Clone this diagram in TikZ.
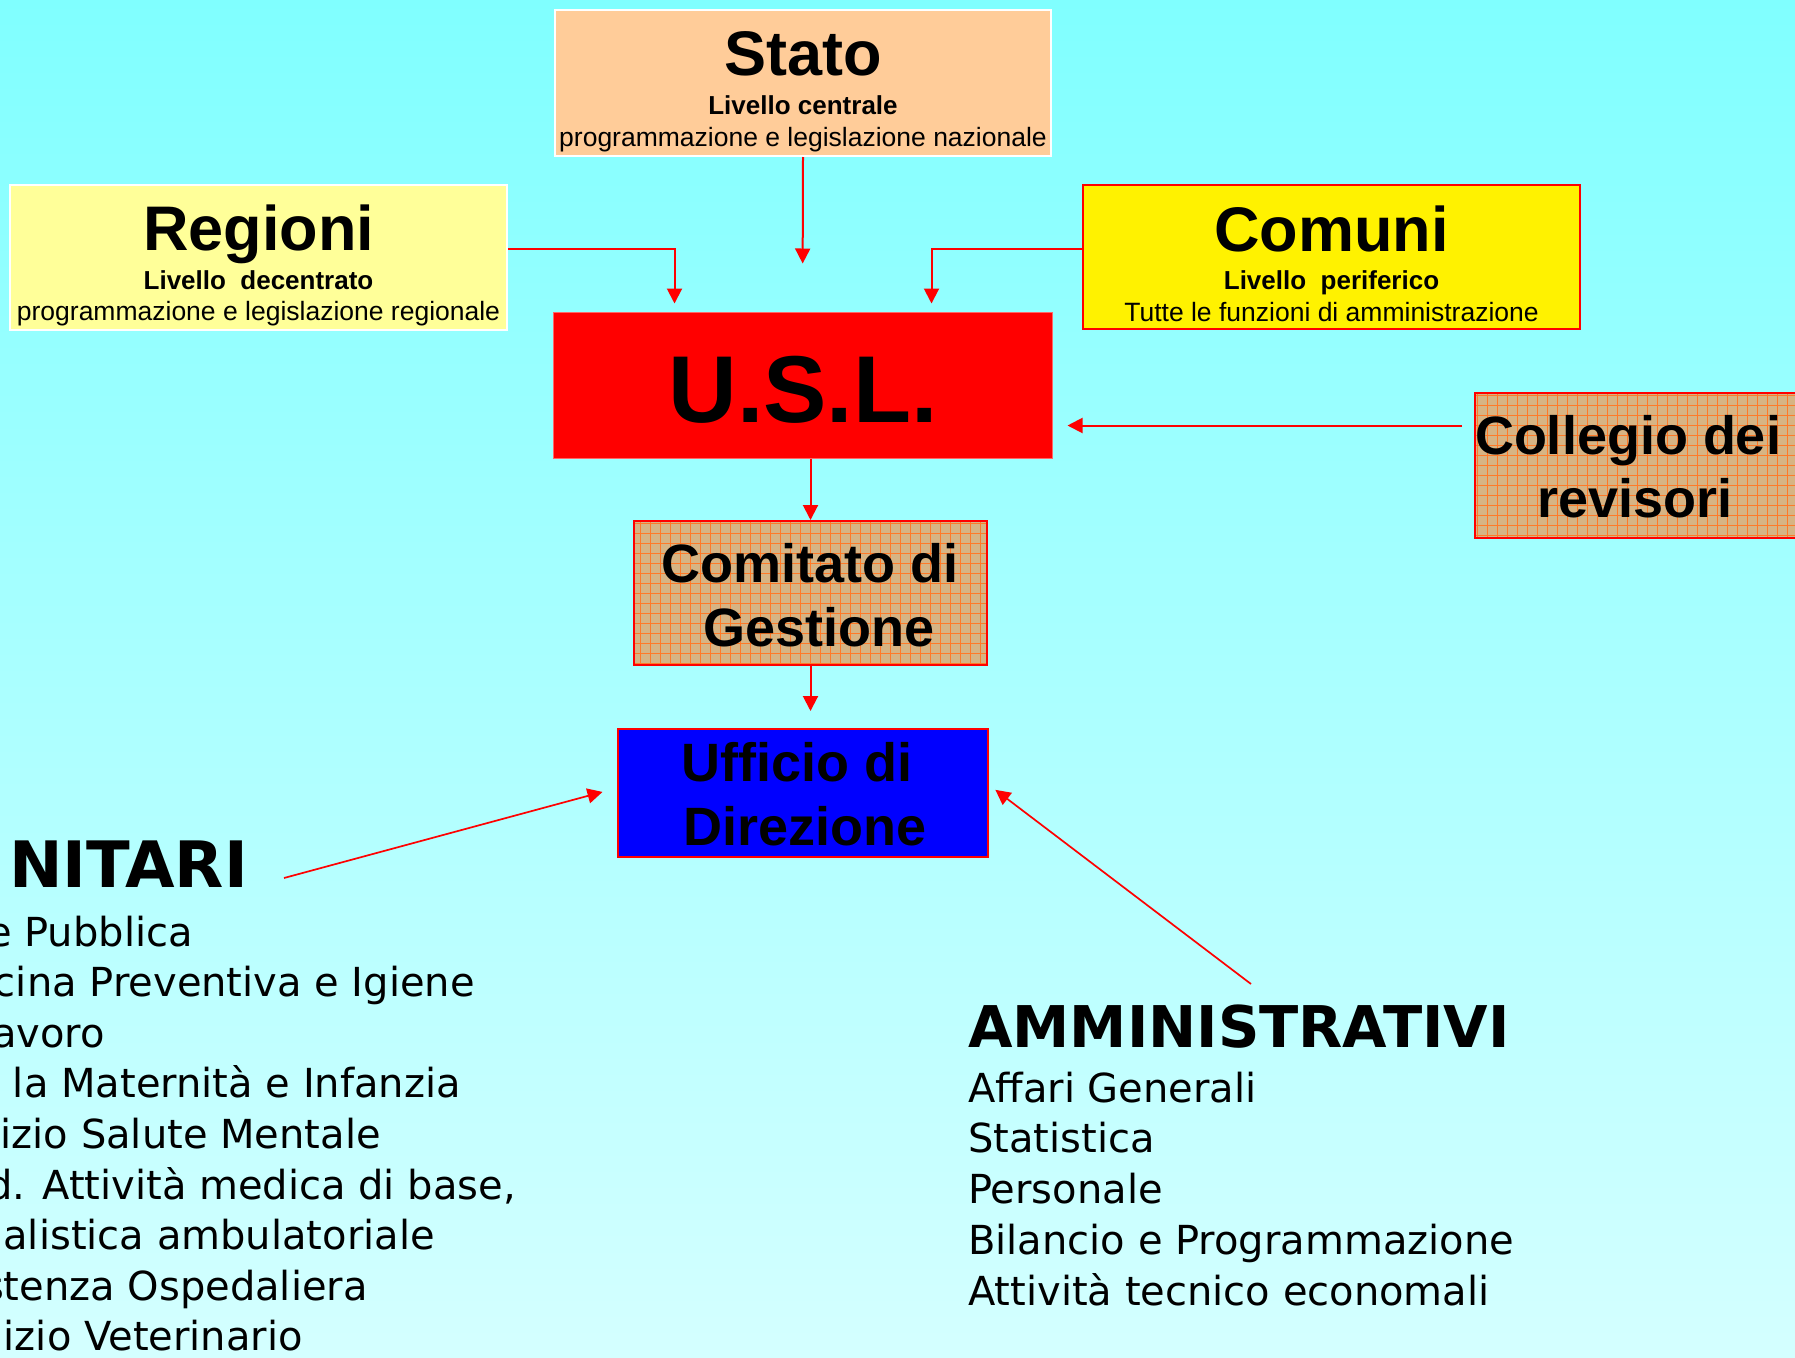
\documentclass[tikz,border=0pt]{standalone}
\usepackage{fontspec}
\setmainfont{Liberation Sans}
\newfontfamily\comicfont{DejaVu Sans}
\usepackage{tikz}
\usetikzlibrary{arrows.meta, positioning}

\definecolor{bgtop}{RGB}{128,255,255}
\definecolor{bgbottom}{RGB}{212,255,255}
\definecolor{peach}{RGB}{255,204,153}
\definecolor{paleyellow}{RGB}{255,255,153}
\definecolor{cardboard}{RGB}{214,180,132}
\definecolor{gridorange}{RGB}{255,122,40}
\newcommand{\sizeto}[1]{\fontsize{#1}{#1}\selectfont}

\begin{document}
\begin{tikzpicture} [x=1pt, y=-1pt,
	box/.style 2 args = {rectangle, minimum width=#1pt, minimum height=#2pt, line width=2pt, inner sep=0pt},
	checked/.style = {fill=cardboard, draw=red, path picture={\draw [gridorange, line width=0.9pt]
		(path picture bounding box.south west) grid [step=10pt] (path picture bounding box.north east);}},
	conn/.style = {red, line width=2pt, -{Triangle[width=15pt, length=15pt]}},
	title/.style = {anchor=base, inner sep=0pt, font=\bfseries\sizeto{63}},
	sub/.style = {anchor=base, inner sep=0pt, font=\bfseries\sizeto{26}},
	note/.style = {anchor=base, inner sep=0pt, font=\sizeto{26.5}},
	mid/.style = {anchor=base, inner sep=0pt, font=\bfseries\sizeto{54}},
	hand/.style = {inner sep=0pt, font=\comicfont\sizeto{40}}]
			% Page and background
			\useasboundingbox (0,0) rectangle (1795,1357);
			\clip (0,0) rectangle (1795,1357);
			\shade [top color=bgtop, bottom color=bgbottom] (0,0) rectangle (1795,1357);
			% Top level: Stato, Regioni, Comuni
			\node (stato) [box={496}{146}, fill=peach, draw=white] at (803,83) {};
			\node (statoT) [title] at (803,75) {Stato};
			\node (statoL) [sub] at (803,114) {Livello centrale};
			\node (statoN) [note] at (803,146) {programmazione e legislazione nazionale};
			\node (regioni) [box={497}{145}, fill=paleyellow, draw=white] at (258.5,257.5) {};
			\node (regioniT) [title] at (258.5,250) {Regioni};
			\node (regioniL) [sub] at (258.5,289) {Livello\ \ decentrato};
			\node (regioniN) [note] at (258.5,320) {programmazione e legislazione regionale};
			\node (comuni) [box={497}{144}, fill=yellow, draw=red] at (1331.5,257) {};
			\node (comuniT) [title] at (1331.5,251) {Comuni};
			\node (comuniL) [sub] at (1331.5,289) {Livello\ \ periferico};
			\node (comuniN) [note] at (1331.5,321) {Tutte le funzioni di amministrazione};
			% U.S.L. and its organs
			\node (usl) [box={499}{146}, fill=red, draw=red!60!white, line width=1pt] at (802.5,385) {};
			\node (uslT) [anchor=base, inner sep=0pt, font=\bfseries\sizeto{95}] at (803,422) {U.S.L.};
			\node (collegio) [box={325}{145}, checked] at (1637.5,465.5) {};
			\node (collegioA) [mid] at (1628,454) {Collegio dei};
			\node (collegioB) [mid] at (1635,517) {revisori};
			\node (comitato) [box={353}{144}, checked] at (810.5,593) {};
			\node (comitatoA) [mid] at (810,582) {Comitato di};
			\node (comitatoB) [mid] at (819,646) {Gestione};
			\node (ufficio) [box={370}{128}, fill=blue, draw=red] at (803,793) {};
			\node (ufficioA) [mid] at (797,781) {Ufficio di};
			\node (ufficioB) [mid] at (805,845) {Direzione};
			% Services
			\node (sanitari) [hand, anchor=base east, font=\comicfont\bfseries\sizeto{64}] at (248,887) {NITARI};
			\foreach \txt/\xr [count=\i from 0] in {e Pubblica/193, cina Preventiva e Igiene/475, avoro/105,
				la Maternità e Infanzia/461, izio Salute Mentale/381, {d. Attività medica di base,}/516,
				ialistica ambulatoriale/435, stenza Ospedaliera/368, izio Veterinario/303}
				\node (san\i) [hand, anchor=base east] at (\xr,946+50.6*\i) {\txt};
			\node (amminis) [hand, anchor=base west, font=\comicfont\bfseries\sizeto{57.5}] at (968,1047) {AMMINISTRATIVI};
			\foreach \txt [count=\i from 0] in {Affari Generali, Statistica, Personale,
				Bilancio e Programmazione, Attività tecnico economali}
				\node (amm\i) [hand, anchor=base west] at (968,1102+50.75*\i) {\txt};
			% Connections
			\coordinate (revfrom) at ([yshift=40pt]collegio.west);
			\coordinate (sanfrom) at (284,878);
			\coordinate (ammfrom) at (1251,984);
			\draw [conn, shorten >=48pt] (stato.south) -- (usl.north);
			\draw [conn, shorten >=8pt] ([yshift=8.5pt]regioni.east) -| ([xshift=122pt]usl.north west);
			\draw [conn, shorten >=8pt] ([yshift=8.5pt]comuni.west) -| ([xshift=-121pt]usl.north east);
			\draw [conn, shorten <=12pt, shorten >=15pt] (revfrom) -- (revfrom -| usl.east);
			\draw [conn] (usl.south -| comitato.north) -- (comitato.north);
			\draw [conn, shorten >=17pt] (comitato.south) -- (comitato.south |- ufficio.north);
			\draw [conn, line width=1.7pt, shorten >=15pt] (sanfrom) -- ([yshift=5pt]ufficio.west);
			\draw [conn, line width=1.7pt, shorten >=8pt] (ammfrom) -- ([yshift=8pt]ufficio.east);
		\end{tikzpicture}
\end{document}
